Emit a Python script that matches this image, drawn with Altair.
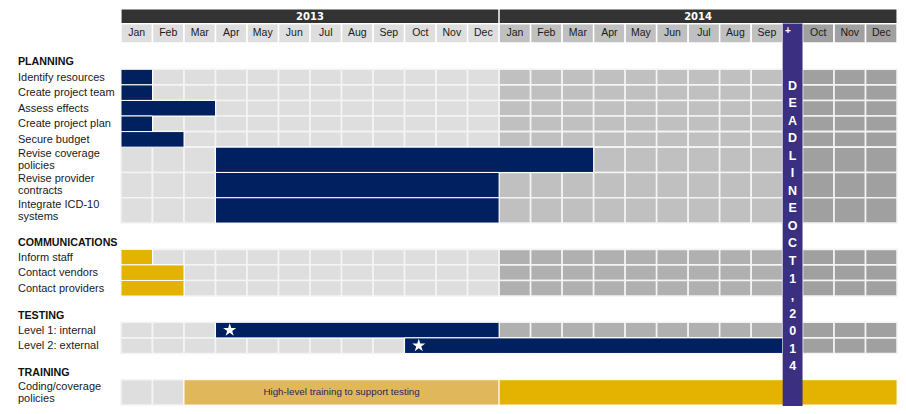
import altair as alt
import pandas as pd

# ---------------- data ----------------
months = ["Jan", "Feb", "Mar", "Apr", "May", "Jun", "Jul", "Aug", "Sep", "Oct", "Nov", "Dec"]
years = ["2013", "2014"]

section_names = ["PLANNING", "COMMUNICATIONS", "TESTING", "TRAINING"]
task_labels = [
    "Identify resources", "Create project team", "Assess effects", "Create project plan",
    "Secure budget", "Revise coverage\npolicies", "Revise provider\ncontracts",
    "Integrate ICD-10\nsystems",
    "Inform staff", "Contact vendors", "Contact providers",
    "Level 1: internal", "Level 2: external",
    "Coding/coverage\npolicies",
]
task_sections = ["PLANNING"] * 8 + ["COMMUNICATIONS"] * 3 + ["TESTING"] * 2 + ["TRAINING"]

# bars: task index, start month (0 = Jan 2013), end month (exclusive)
bar_task = [0, 1, 2, 3, 4, 5, 6, 7, 8, 9, 10, 11, 12, 13, 13]
bar_start = [0, 0, 0, 0, 0, 3, 3, 3, 0, 0, 0, 3, 9, 2, 12]
bar_end = [1, 1, 3, 1, 2, 15, 12, 12, 1, 2, 2, 12, 21, 12, 24]
bar_kind = ["navy"] * 8 + ["gold"] * 3 + ["navy"] * 2 + ["softgold", "gold"]
bar_note = [""] * 13 + ["High-level training to support testing", ""]
milestone_tasks = [11, 12]

deadline_month = 21          # deadline column sits before Oct 2014
deadline_text = "DEADLINEOCT1,2014"

# ---------------- style / layout ----------------
NAVY = "#002060"
GOLD = "#e4b200"
SOFTGOLD = "#e0b75a"
DEADLINE = "#3a2f80"
bar_colors = {"navy": NAVY, "gold": GOLD, "softgold": SOFTGOLD}

DL_W = 0.63
YEAR_TOP, YEAR_BOT, MONTH_BOT = 5, 20, 40
SECTION_GAP = 27
ROW_H = {1: 16, 2: 26}
LINE_H = 12.6
BOTTOM = 414
LETTER_TOP, LETTER_STEP = 84, 18

X = alt.Scale(domain=[-3.586, 24.66], nice=False, zero=False)
Y = alt.Scale(domain=[4, 413], reverse=True, nice=False, zero=False)
FONT = "Liberation Sans"


def start_pos(m):
    return m + (DL_W if m >= deadline_month else 0)


def end_pos(m):
    return m + (DL_W if m > deadline_month else 0)


def cell_color(m, section):
    if m < 12:
        return "#dedede"
    if m < deadline_month:
        return "#c0c0c0" if section in ("PLANNING", "HEADER") else "#b0b0b0"
    return "#a0a0a0"


# rows
rows = []
headers = []
y = MONTH_BOT
prev = None
for lab, sec in zip(task_labels, task_sections):
    if sec != prev:
        y += SECTION_GAP
        headers.append({"t": sec, "x": -3.27, "y": y - 7})
        prev = sec
    n = lab.count("\n") + 1
    h = ROW_H[n]
    rows.append({"t": lab, "sec": sec, "y": y, "y2": y + h, "n": n})
    y += h

cells = []
for r in rows:
    for m in range(24):
        cells.append({"x": start_pos(m), "x2": end_pos(m + 1), "y": r["y"], "y2": r["y2"],
                      "fill": cell_color(m, r["sec"])})

head_cells, month_txt = [], []
for m in range(24):
    head_cells.append({"x": start_pos(m), "x2": end_pos(m + 1), "y": YEAR_BOT, "y2": MONTH_BOT,
                       "fill": cell_color(m, "HEADER")})
    month_txt.append({"t": months[m % 12], "x": (start_pos(m) + end_pos(m + 1)) / 2,
                      "y": (YEAR_BOT + MONTH_BOT) / 2})

year_cells, year_txt = [], []
for i, yr in enumerate(years):
    x0, x1 = start_pos(12 * i), end_pos(12 * (i + 1))
    year_cells.append({"x": x0, "x2": x1, "y": YEAR_TOP, "y2": YEAR_BOT, "fill": "#333333"})
    year_txt.append({"t": yr, "x": (x0 + x1) / 2, "y": (YEAR_TOP + YEAR_BOT) / 2 + 1})

bars, notes = [], []
for ti, s, e, k, note in zip(bar_task, bar_start, bar_end, bar_kind, bar_note):
    r = rows[ti]
    bars.append({"x": start_pos(s), "x2": end_pos(e), "y": r["y"], "y2": r["y2"],
                 "fill": bar_colors[k]})
    if note:
        notes.append({"t": note, "x": (start_pos(s) + end_pos(e)) / 2,
                      "y": (r["y"] + r["y2"]) / 2})

stars = []
for ti in milestone_tasks:
    i = bar_task.index(ti)
    r = rows[ti]
    stars.append({"x": start_pos(bar_start[i]) + 0.45, "y": (r["y"] + r["y2"]) / 2})

# first line of a wrapped label sits above the row centre
labels = [{"t": r["t"], "x": -3.27,
           "y": (r["y"] + r["y2"]) / 2 - (r["n"] - 1) * LINE_H / 2 + 0.5} for r in rows]

dl_band = [{"x": deadline_month, "x2": deadline_month + DL_W, "y": YEAR_BOT, "y2": BOTTOM,
            "fill": DEADLINE}]
dl_letters = [{"t": ch, "x": deadline_month + DL_W / 2, "y": LETTER_TOP + i * LETTER_STEP}
              for i, ch in enumerate(deadline_text)]
dl_plus = [{"t": "+", "x": deadline_month + 0.17, "y": (YEAR_BOT + MONTH_BOT) / 2 - 2}]

STAR = ("M0,-1 L0.2245,-0.309 L0.951,-0.309 L0.363,0.118 L0.588,0.809 L0,0.382 "
        "L-0.588,0.809 L-0.363,0.118 L-0.951,-0.309 L-0.2245,-0.309 Z")


def rect_layer(recs, stroke=None, sw=0):
    kw = {}
    if stroke:
        kw = {"stroke": stroke, "strokeWidth": sw}
    return alt.Chart(pd.DataFrame(recs)).mark_rect(**kw).encode(
        x=alt.X("x:Q", scale=X, axis=None), x2="x2:Q",
        y=alt.Y("y:Q", scale=Y, axis=None), y2="y2:Q",
        color=alt.Color("fill:N", scale=None),
    )


def text_layer(recs, **kw):
    return alt.Chart(pd.DataFrame(recs)).mark_text(**kw).encode(
        x=alt.X("x:Q", scale=X, axis=None),
        y=alt.Y("y:Q", scale=Y, axis=None),
        text="t:N",
    )


layers = [
    rect_layer(head_cells, "#ffffff", 1.5),
    rect_layer(year_cells, "#ffffff", 1.2),
    rect_layer(cells, "#f4f4f4", 1.6),
    rect_layer(bars, "#ffffff", 1.0),
    rect_layer(dl_band),
    text_layer(month_txt, font=FONT, fontSize=10.5, color="#1a1a1a", baseline="middle"),
    text_layer(year_txt, font="DejaVu Sans", fontWeight="bold", fontSize=10, color="#ffffff",
               baseline="middle"),
    text_layer(labels, font=FONT, fontSize=11, color="#1a1a1a", align="left",
               baseline="middle", lineBreak="\n", lineHeight=12),
    text_layer(headers, font=FONT, fontSize=10.7, fontWeight="bold", color="#111111",
               align="left", baseline="middle"),
    text_layer(notes, font=FONT, fontSize=9.8, color="#1f2858", baseline="middle"),
    alt.Chart(pd.DataFrame(stars)).mark_point(shape=STAR, size=190, filled=True,
                                               fill="#ffffff", opacity=1, strokeWidth=0).encode(
        x=alt.X("x:Q", scale=X, axis=None), y=alt.Y("y:Q", scale=Y, axis=None)),
    text_layer(dl_letters, font=FONT, fontSize=12.5, fontWeight="bold", color="#ffffff",
               baseline="middle"),
    text_layer(dl_plus, font=FONT, fontSize=10, fontWeight="bold", color="#ffffff",
               baseline="middle"),
]

chart = alt.layer(*layers).properties(
    width=890, height=398, padding=0, autosize="none"
).configure_view(stroke=None)

chart.save("out.html", embed_options={"renderer": "svg", "actions": False})
